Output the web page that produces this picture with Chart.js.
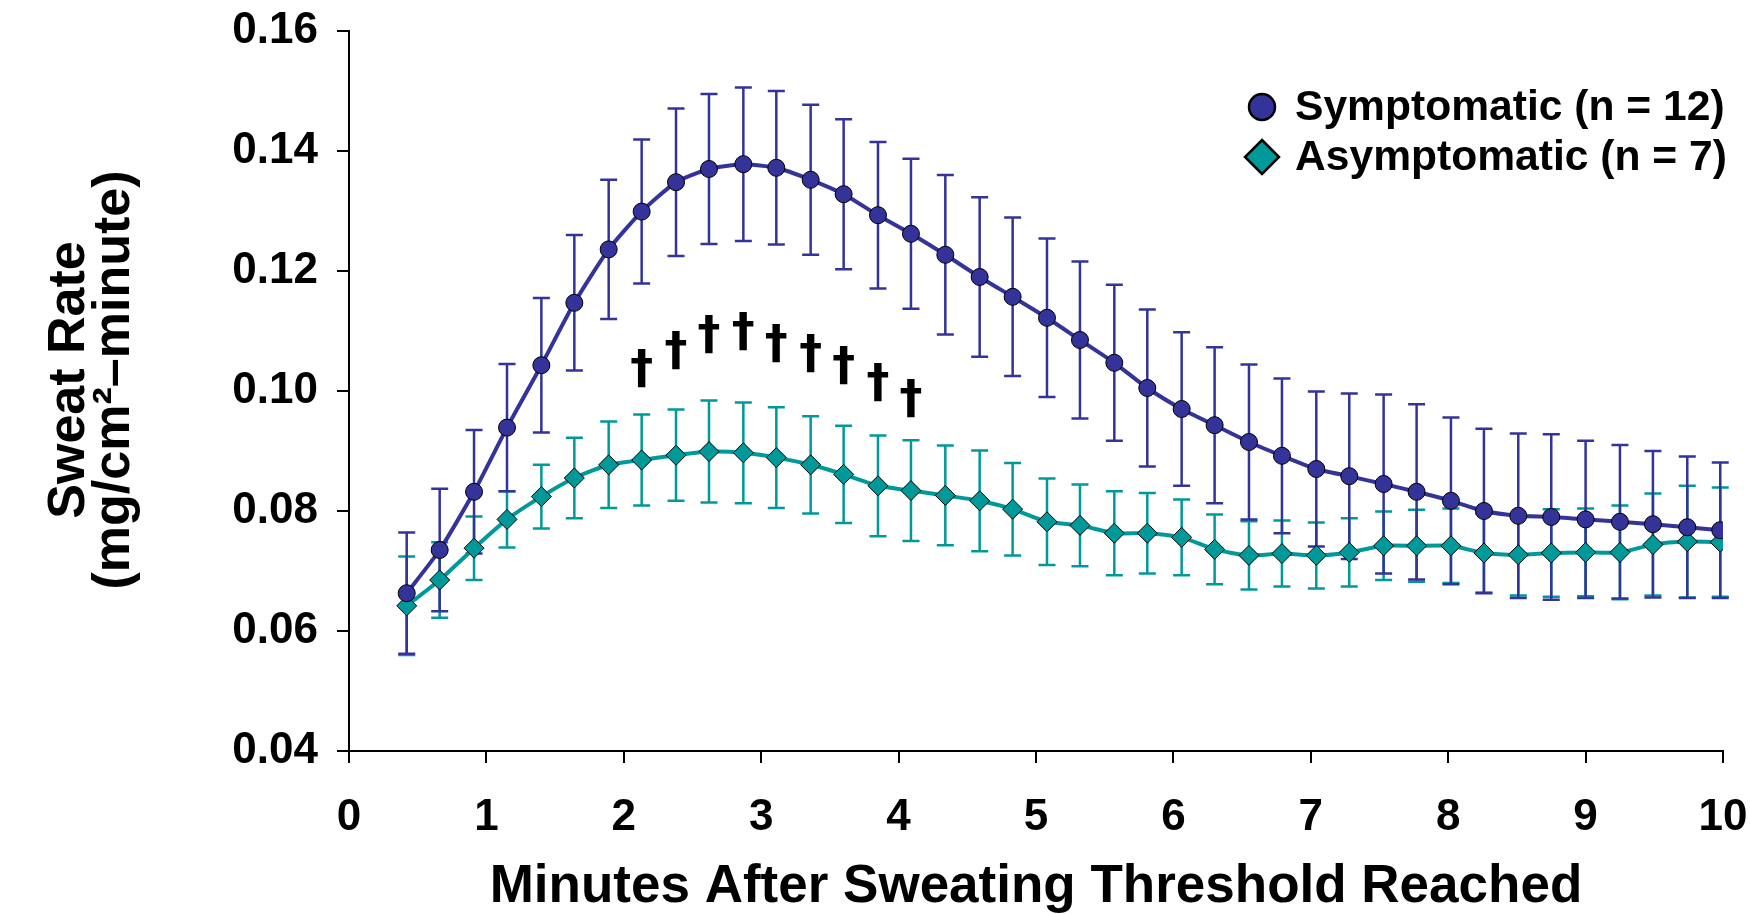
<!DOCTYPE html>
<html><head><meta charset="utf-8">
<script src="https://cdn.jsdelivr.net/npm/chart.js@4.4.1/dist/chart.umd.min.js"></script>
<style>html,body{margin:0;padding:0;background:#fff;overflow:hidden}#wrap{width:1750px;height:914px;position:relative}</style>
</head><body><div id="wrap"><canvas id="c" width="1750" height="914"></canvas></div>
<script>
// ---- data ----
const minutes = [0.42,0.66,0.91,1.15,1.40,1.64,1.89,2.13,2.38,2.62,2.87,3.11,3.36,3.60,3.85,4.09,4.34,4.59,4.83,5.08,5.32,5.57,5.81,6.06,6.30,6.55,6.79,7.04,7.28,7.53,7.77,8.02,8.26,8.51,8.75,9.00,9.25,9.49,9.74,9.98];
const symptomaticMean = [0.0663,0.0735,0.0832,0.0939,0.1043,0.1147,0.1236,0.1299,0.1348,0.1370,0.1378,0.1372,0.1352,0.1328,0.1293,0.1262,0.1227,0.1190,0.1157,0.1122,0.1085,0.1047,0.1005,0.0970,0.0943,0.0915,0.0892,0.0870,0.0858,0.0845,0.0832,0.0817,0.0800,0.0792,0.0790,0.0786,0.0782,0.0778,0.0773,0.0768];
const symptomaticSD = [0.0101,0.0102,0.0103,0.0106,0.0112,0.0113,0.0116,0.0120,0.0123,0.0125,0.0128,0.0128,0.0125,0.0125,0.0122,0.0125,0.0133,0.0133,0.0132,0.0132,0.0131,0.0130,0.0131,0.0128,0.0130,0.0129,0.0129,0.0129,0.0138,0.0149,0.0146,0.0139,0.0137,0.0137,0.0138,0.0131,0.0128,0.0122,0.0118,0.0113];
const asymptomaticMean = [0.0642,0.0685,0.0738,0.0786,0.0824,0.0855,0.0877,0.0885,0.0893,0.0899,0.0897,0.0889,0.0877,0.0861,0.0842,0.0834,0.0826,0.0817,0.0803,0.0782,0.0776,0.0763,0.0763,0.0756,0.0736,0.0726,0.0729,0.0726,0.0731,0.0742,0.0742,0.0742,0.0730,0.0727,0.0730,0.0731,0.0731,0.0744,0.0749,0.0748];
const asymptomaticSD = [0.0082,0.0063,0.0053,0.0047,0.0053,0.0067,0.0072,0.0076,0.0076,0.0085,0.0084,0.0084,0.0081,0.0081,0.0084,0.0084,0.0083,0.0084,0.0077,0.0072,0.0068,0.0070,0.0067,0.0063,0.0058,0.0057,0.0055,0.0055,0.0057,0.0057,0.0060,0.0062,0.0066,0.0068,0.0073,0.0073,0.0078,0.0085,0.0093,0.0091];
const daggerIndex = [7,8,9,10,11,12,13,14,15];
const daggerY = [0.1038,0.1068,0.1095,0.1100,0.1080,0.1063,0.1042,0.1015,0.0988];
const xTickValues = [0,1,2,3,4,5,6,7,8,9,10];
const xTickLabels = ['0','1','2','3','4','5','6','7','8','9','10'];
const yTickValues = [0.04,0.06,0.08,0.10,0.12,0.14,0.16];
const yTickLabels = ['0.04','0.06','0.08','0.10','0.12','0.14','0.16'];
const seriesLabels = ['Symptomatic (n = 12)','Asymptomatic (n = 7)'];
const titleY = ['Sweat Rate','(mg/cm\u00B2\u2013minute)'];
const titleX = 'Minutes After Sweating Threshold Reached';

const PURPLE = '#333399', TEAL = '#009999';
const FONT = '"Liberation Sans", Arial, sans-serif';

const pts = (m) => minutes.map((x, i) => ({x, y: m[i]}));

const overlay = {
  id: 'overlay',
  beforeDatasetsDraw(chart) {
    const {ctx, scales: {x, y}} = chart;
    ctx.save();
    ctx.lineWidth = 2.5;
    const order = [1, 0];
    for (const di of order) {
      const ds = chart.data.datasets[di];
      ctx.strokeStyle = ds.borderColor;
      ds.data.forEach((p, i) => {
        const e = ds.errors[i];
        const px = x.getPixelForValue(p.x);
        const t = y.getPixelForValue(p.y + e);
        const b = y.getPixelForValue(p.y - e);
        ctx.beginPath();
        ctx.moveTo(px, t); ctx.lineTo(px, b);
        ctx.moveTo(px - 8.5, t); ctx.lineTo(px + 8.5, t);
        ctx.moveTo(px - 8.5, b); ctx.lineTo(px + 8.5, b);
        ctx.stroke();
      });
    }
    ctx.restore();
  },
  afterDatasetsDraw(chart) {
    const {ctx, scales: {x, y}} = chart;
    ctx.save();
    ctx.fillStyle = '#000';
    ctx.font = 'bold 46px "DejaVu Sans", sans-serif';
    ctx.textAlign = 'center';
    ctx.textBaseline = 'alphabetic';
    const m = ctx.measureText('\u2020');
    const shift = (m.actualBoundingBoxAscent - m.actualBoundingBoxDescent) / 2;
    daggerIndex.forEach((idx, k) => {
      const px = x.getPixelForValue(minutes[idx]);
      const py = y.getPixelForValue(daggerY[k]);
      ctx.fillText('\u2020', px, py + shift);
    });
    ctx.restore();
  },
  afterDraw(chart) {
    const {ctx} = chart;
    ctx.save();
    // y-axis title (two rotated lines)
    ctx.fillStyle = '#000';
    ctx.font = 'bold 52px ' + FONT;
    ctx.textAlign = 'center';
    ctx.textBaseline = 'middle';
    const tcx = [70, 115];
    titleY.forEach((line, i) => {
      ctx.save();
      ctx.translate(tcx[i], 380);
      ctx.rotate(-Math.PI / 2);
      ctx.fillText(line, 0, 0);
      ctx.restore();
    });
    // legend
    const mx = 1262, tx = 1295;
    const rows = [107, 157];
    chart.data.datasets.forEach((ds, i) => {
      const cy = rows[i];
      ctx.fillStyle = ds.pointBackgroundColor;
      ctx.strokeStyle = '#000';
      ctx.lineWidth = 2.5;
      ctx.beginPath();
      if (ds.pointStyle === 'circle') {
        ctx.arc(mx, cy, 13, 0, Math.PI * 2);
      } else {
        ctx.moveTo(mx, cy - 17); ctx.lineTo(mx + 17, cy); ctx.lineTo(mx, cy + 17); ctx.lineTo(mx - 17, cy); ctx.closePath();
      }
      ctx.fill(); ctx.stroke();
      ctx.fillStyle = '#000';
      ctx.font = 'bold 42.6px ' + FONT;
      ctx.textAlign = 'left';
      ctx.textBaseline = 'middle';
      ctx.fillText(ds.label, tx, cy + 1);
    });
    ctx.restore();
  }
};

new Chart(document.getElementById('c'), {
  type: 'line',
  data: {
    datasets: [
      {label: seriesLabels[0], data: pts(symptomaticMean), errors: symptomaticSD,
       borderColor: PURPLE, borderWidth: 4, pointStyle: 'circle', pointRadius: 8.5,
       pointBackgroundColor: PURPLE, pointBorderColor: '#000', pointBorderWidth: 1, tension: 0.2, fill: false},
      {label: seriesLabels[1], data: pts(asymptomaticMean), errors: asymptomaticSD,
       borderColor: TEAL, borderWidth: 4, pointStyle: 'rectRot', pointRadius: 10,
       pointBackgroundColor: TEAL, pointBorderColor: '#000', pointBorderWidth: 1, tension: 0.2, fill: false}
    ]
  },
  options: {
    responsive: false, animation: false, devicePixelRatio: 1,
    layout: {padding: {left: 0, top: 31, right: 27, bottom: 0}},
    plugins: {legend: {display: false}, tooltip: {enabled: false}},
    scales: {
      x: {
        type: 'linear', min: 0, max: 10,
        afterBuildTicks: s => { s.ticks = xTickValues.map(v => ({value: v})); },
        afterFit: s => { s.height = 163; s.paddingLeft = 0; s.paddingRight = 0; },
        border: {color: '#000', width: 2},
        grid: {drawOnChartArea: false, color: '#000', lineWidth: 2, tickLength: 12},
        ticks: {color: '#000', font: {family: FONT, size: 44, weight: 'bold'}, padding: 28, maxRotation: 0, autoSkip: false,
                callback: (v, i) => xTickLabels[i]},
        title: {display: true, text: titleX, color: '#000', font: {family: FONT, size: 53, weight: 'bold', lineHeight: 1}, padding: {top: 0, bottom: 0}}
      },
      y: {
        type: 'linear', min: 0.04, max: 0.16,
        afterBuildTicks: s => { s.ticks = yTickValues.map(v => ({value: v})); },
        afterFit: s => { s.width = 349; s.paddingTop = 0; s.paddingBottom = 0; },
        border: {color: '#000', width: 2},
        grid: {drawOnChartArea: false, color: '#000', lineWidth: 2, tickLength: 12},
        ticks: {color: '#000', font: {family: FONT, size: 44, weight: 'bold'}, padding: 19, autoSkip: false,
                callback: (v, i) => yTickLabels[i]},
        title: {display: false}
      }
    }
  },
  plugins: [overlay]
});
</script></body></html>
